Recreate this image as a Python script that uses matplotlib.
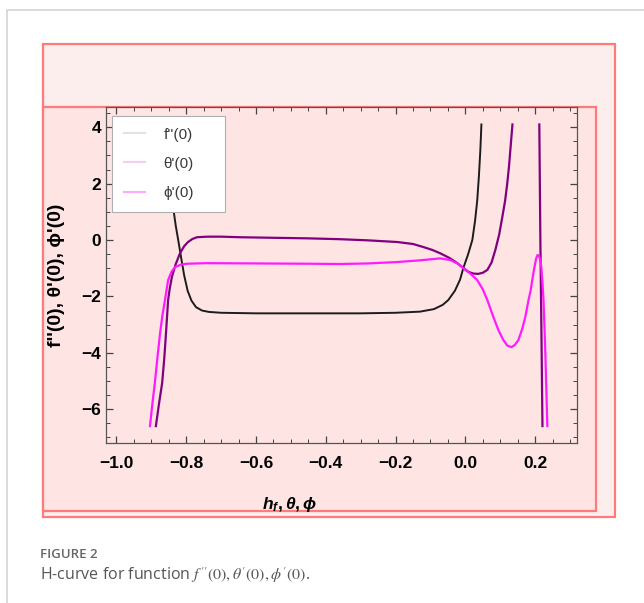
import numpy as np
import matplotlib
matplotlib.use('Agg')
import matplotlib.pyplot as plt
from matplotlib.patches import Rectangle
from matplotlib.lines import Line2D
from matplotlib.ticker import MultipleLocator

plt.rcParams['font.family'] = ['Liberation Sans', 'DejaVu Sans']
plt.rcParams['mathtext.fontset'] = 'custom'
plt.rcParams['mathtext.it'] = 'Liberation Sans:italic:bold'
plt.rcParams['mathtext.rm'] = 'Liberation Sans:bold'

nan = np.nan

# f''(0) curve
f_x = [-0.862, -0.855, -0.846, -0.838, -0.830, -0.823, -0.815, -0.806, -0.796,
       -0.785, -0.772, -0.755, -0.735, -0.70, -0.60, -0.50, -0.40, -0.30, -0.20,
       -0.13, -0.09, -0.065, -0.049, -0.03, -0.015, -0.006, 0.008, 0.020, 0.028,
       0.034, 0.039, 0.043, 0.046]
f_y = [4.1, 3.0, 2.0, 1.2, 0.5, 0.0, -0.6, -1.25, -1.8,
       -2.15, -2.38, -2.5, -2.55, -2.58, -2.6, -2.6, -2.6, -2.6, -2.58,
       -2.54, -2.45, -2.3, -2.13, -1.8, -1.4, -1.0, -0.5, 0.0, 0.7,
       1.4, 2.3, 3.2, 4.1]

# theta'(0) curve, two branches
theta_x = [-0.887, -0.878, -0.869, -0.863, -0.858, -0.852, -0.847, -0.841, -0.830,
           -0.818, -0.806, -0.795, -0.782, -0.769, -0.74, -0.70, -0.646, -0.55,
           -0.45, -0.359, -0.28, -0.195, -0.15, -0.12, -0.095, -0.072, -0.045,
           -0.023, -0.005, 0.009, 0.023, 0.037, 0.050, 0.063, 0.075, 0.086, 0.097,
           0.106, 0.114, 0.120, 0.125, 0.129, 0.135, nan, 0.212, 0.215, 0.218, 0.221]
theta_y = [-6.6, -5.8, -5.07, -4.2, -3.3, -2.13, -1.7, -1.3, -0.85,
           -0.47, -0.22, -0.07, 0.04, 0.1, 0.12, 0.12, 0.1, 0.08,
           0.06, 0.03, -0.01, -0.07, -0.14, -0.25, -0.35, -0.47, -0.64,
           -0.82, -1.0, -1.13, -1.19, -1.2, -1.16, -1.06, -0.8, -0.35, 0.2,
           0.82, 1.4, 2.0, 2.6, 3.2, 4.1, nan, 4.1, 0.0, -3.2, -6.6]

# phi'(0) curve
phi_x = [-0.904, -0.897, -0.890, -0.882, -0.875, -0.868, -0.861, -0.852, -0.842,
         -0.832, -0.815, -0.798, -0.74, -0.60, -0.45, -0.359, -0.28, -0.195, -0.13,
         -0.072, -0.043, -0.02, -0.006, 0.015, 0.034, 0.050, 0.063, 0.080, 0.095,
         0.109, 0.120, 0.132, 0.142, 0.152, 0.163, 0.172, 0.181, 0.187, 0.192,
         0.198, 0.203, 0.207, 0.211, 0.215, 0.218, 0.221, 0.224, 0.229, 0.235]
phi_y = [-6.6, -5.8, -5.07, -4.1, -3.3, -2.65, -2.13, -1.42, -1.12,
         -0.96, -0.87, -0.84, -0.82, -0.83, -0.84, -0.85, -0.83, -0.78, -0.72,
         -0.65, -0.71, -0.85, -1.0, -1.2, -1.42, -1.75, -2.13, -2.72, -3.2,
         -3.55, -3.74, -3.8, -3.72, -3.55, -3.15, -2.72, -2.13, -1.8, -1.4,
         -0.96, -0.65, -0.53, -0.56, -0.71, -1.0, -1.53, -2.13, -3.9, -6.6]

labels = ["f''(0)", "\u03b8'(0)", "\u03d5'(0)"]

W, H = 644, 603
fig = plt.figure(figsize=(W / 100, H / 100), dpi=100)
fig.patch.set_facecolor('white')


def fx(px):
    return px / W


def fy(py):
    return 1 - py / H


# page border lines
fig.add_artist(Line2D([fx(7), fx(7), 1], [0, fy(10), fy(10)], color='#d4d4d4', lw=1.2))

# pink boxes behind the plot
fig.add_artist(Rectangle((fx(43), fy(517)), fx(615) - fx(43), fy(44) - fy(517),
                         facecolor='#fdeeee', edgecolor='#ff7a7a', lw=1.6, zorder=0))
fig.add_artist(Rectangle((fx(43), fy(511)), fx(596) - fx(43), fy(107) - fy(511),
                         facecolor='#ffe4e4', edgecolor='#ff7a7a', lw=1.6, zorder=0))

ax = fig.add_axes([fx(106), fy(443), fx(577) - fx(106), fy(107) - fy(443)])
ax.set_facecolor('#ffe4e4')

ax.plot(f_x, f_y, color='#1c1c1c', lw=1.4)
ax.plot(theta_x, theta_y, color='#800080', lw=1.6)
ax.plot(phi_x, phi_y, color='#ff1aff', lw=1.6)

ax.set_xlim(-1.03, 0.32)
ax.set_ylim(-7.2, 4.72)

ax.xaxis.set_major_locator(MultipleLocator(0.2))
ax.xaxis.set_minor_locator(MultipleLocator(0.05))
ax.yaxis.set_major_locator(MultipleLocator(2))
ax.yaxis.set_minor_locator(MultipleLocator(0.5))
ax.tick_params(which='both', direction='in', top=True, right=True, color='#444')
ax.tick_params(which='major', length=5, width=0.9, labelsize=12.5)
ax.tick_params(axis='x', which='major', pad=9)
ax.tick_params(axis='y', which='major', pad=3.5)
ax.tick_params(which='minor', length=3, width=0.7)
for lab in ax.get_xticklabels() + ax.get_yticklabels():
    lab.set_fontweight('bold')
ax.xaxis.set_major_formatter(plt.FuncFormatter(lambda v, p: f'{v:.1f}'.replace('-', '\u2212')))
ax.yaxis.set_major_formatter(plt.FuncFormatter(lambda v, p: f'{v:.0f}'.replace('-', '\u2212')))
for s in ax.spines.values():
    s.set_color('#555555')
    s.set_linewidth(0.9)

ax.set_xlabel(r'$h_f,\theta,\phi$', fontsize=12.5)
ax.xaxis.set_label_coords(0.39, -0.155)
ax.set_ylabel(labels[0] + ', ' + labels[1] + ', ' + labels[2], fontsize=14,
              fontweight='bold')
ax.yaxis.set_label_coords(-0.087, 0.5)

handles = [Line2D([], [], color='#e6e0e0', lw=1.5),
           Line2D([], [], color='#f4cdf0', lw=1.5),
           Line2D([], [], color='#ffa8ff', lw=1.5)]
leg = ax.legend(handles, labels, loc='upper left', bbox_to_anchor=(0.013, 0.3, 0.24, 0.673),
                mode='expand', borderaxespad=0, fancybox=False, framealpha=1,
                edgecolor='#b0b0b0', fontsize=11, labelspacing=1.0, handlelength=1.4,
                handletextpad=1.2, borderpad=0.75, labelcolor='#3a3a3a')
leg.get_frame().set_linewidth(0.8)

fig.text(fx(40), fy(555), 'FIGURE 2', family=['Open Sans', 'DejaVu Sans'],
         fontsize=9.5, fontweight='semibold', color='#666666', va='center')
fig.text(fx(40), fy(575),
         r"H-curve for function $f''(0), \theta'(0), \phi'(0)$.",
         family=['Open Sans', 'DejaVu Sans'], fontsize=11.5, color='#555555', va='center',
         math_fontfamily='stix')

fig.savefig('out.png', dpi=100)
